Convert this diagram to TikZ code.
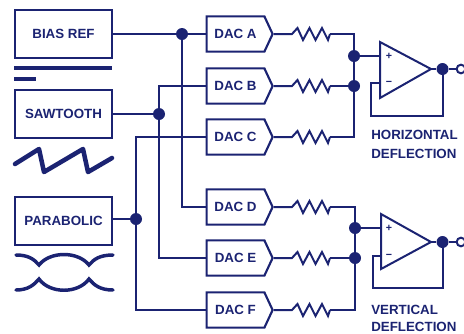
\documentclass[tikz,border=0pt]{standalone}
\usepackage{fontspec}
\setmainfont{Liberation Sans}
\usepackage{xcolor}
\usetikzlibrary{calc,positioning,shapes.geometric,shapes.symbols}
\definecolor{wire}{HTML}{1B2372}
\tikzset{
  srcbox/.style={draw=wire, line width=1.6pt, minimum width=72.75pt, minimum height=36pt, text=wire, font=\fontsize{10}{12}\selectfont\bfseries},
  dacbox/.style={signal, signal to=east, signal from=nowhere, signal pointer angle=130, draw=wire, line width=1.6pt, minimum width=49.5pt, minimum height=26.5pt, inner sep=1pt, text=wire, font=\fontsize{10}{12}\selectfont\bfseries},
  net/.style={draw=wire, line width=1.5pt},
  dot/.style={circle, fill=wire, inner sep=0pt, minimum size=9pt},
  outdot/.style={circle, draw=wire, fill=white, line width=1.5pt, inner sep=0pt, minimum size=6.5pt},
  amp/.style={net, line join=miter},
  sign/.style={text=wire, font=\fontsize{8}{8}\selectfont\bfseries, inner sep=0pt},
  defl/.style={text=wire, anchor=west, inner sep=0pt, font=\fontsize{10}{12}\selectfont\bfseries},
  wave/.style={draw=wire, line width=3pt, line cap=round}
}
\begin{document}
\begin{tikzpicture}[x=0.75pt, y=-0.75pt]
\useasboundingbox (0,0) rectangle (464,333);
% sources
\node[srcbox] (bias) at (63.5,34) {BIAS REF};
\node[srcbox] (saw) at (63.5,114) {SAWTOOTH};
\node[srcbox] (para) at (63.5,221) {PARABOLIC};
% waveforms under the sources
\draw[wave, line cap=butt] (14,68) -- (112,68);
\draw[wave, line cap=butt] (14,79) -- (36,79);
\draw[wave, line width=3.4pt, line join=round] (15,164) -- (39,149) -- (44,172) -- (83,149) -- (88,172) -- (112,158);
\draw[wave, line width=2.6pt] (16,255) .. controls (28,255) and (34,259) .. (39,265) .. controls (50,251) and (78,251) .. (89,265) .. controls (94,259) and (100,255) .. (113,255);
\draw[wave, line width=2.6pt] (16,290) .. controls (28,290) and (34,285) .. (39,279) .. controls (50,294) and (78,294) .. (89,279) .. controls (94,285) and (100,290) .. (113,290);
% DACs and resistors
\foreach \n/\y in {A/34, B/86, C/137, D/207, E/258, F/310} {
  \node[dacbox] (dac\n) at (235.5,\y) {DAC \n};
  \coordinate (rin\n) at (292,\y);
  \coordinate (rout\n) at (330,\y);
  \draw[net] (dac\n.east) -- (rin\n) -- ++(5.5,-6) -- ++(5.5,12) -- ++(6.5,-12) -- ++(6,12) -- ++(6.5,-12) -- ++(6,12) -- (rout\n);
}
% summing rails
\coordinate (railA) at (354,34);
\coordinate (railC) at (354,137);
\coordinate (railD) at (355,207);
\coordinate (railF) at (355,310);
\draw[net] (routA) -- (railA) -- (railC) -- (routC);
\draw[net] (routB) -- (354,86);
\draw[net] (routD) -- (railD) -- (railF) -- (routF);
\draw[net] (routE) -- (355,258);
\node[dot] (sumH) at (354,56) {};
\node[dot] (sumB) at (354,86) {};
\node[dot] (sumV) at (355,228) {};
\node[dot] (sumE) at (355,258) {};
% source buses
\node[dot] (jbias) at (182,34) {};
\node[dot] (jsaw) at (159,114) {};
\node[dot] (jpara) at (136,219) {};
\draw[net] (bias.east) -- (jbias) -- (dacA.west);
\draw[net] (jbias) |- (dacD.west);
\draw[net] (saw.east) -- (jsaw);
\draw[net] (para.east |- jpara) -- (jpara);
\draw[net] (dacB.west) -| (jsaw) |- (dacE.west);
\draw[net] (dacC.west) -| (jpara) |- (dacF.west);
% amplifiers
\foreach \a/\tx/\top/\mid/\bot/\plus/\minus/\jy/\fx/\fy/\nm in {H/380/42/69/98/56/83/69/371/116/sumH, V/381/214/242/269/228/256/242/373/288/sumV} {
  \coordinate (tip\a) at (431,\mid);
  \draw[amp, fill=white] (\tx,\top) -- (tip\a) -- (\tx,\bot) -- cycle;
  \node[sign] (plus\a) at (389,\plus) {+};
  \node[sign] (minus\a) at (389,\minus) {\char"2212};
  \node[dot] (out\a) at (442.5,\jy) {};
  \node[outdot] (end\a) at (461,\jy) {};
  \draw[net] (\nm) -- (\tx,\plus);
  \draw[net] (tip\a) -- (out\a) -- (end\a);
  \draw[net] (out\a) |- (\fx,\fy) |- (\tx,\minus);
}
\node[defl] (labH1) at (371,135) {HORIZONTAL};
\node[defl] (labH2) at (371,154) {DEFLECTION};
\node[defl] (labV1) at (371,310) {VERTICAL};
\node[defl] (labV2) at (371,327) {DEFLECTION};
\end{tikzpicture}
\end{document}
